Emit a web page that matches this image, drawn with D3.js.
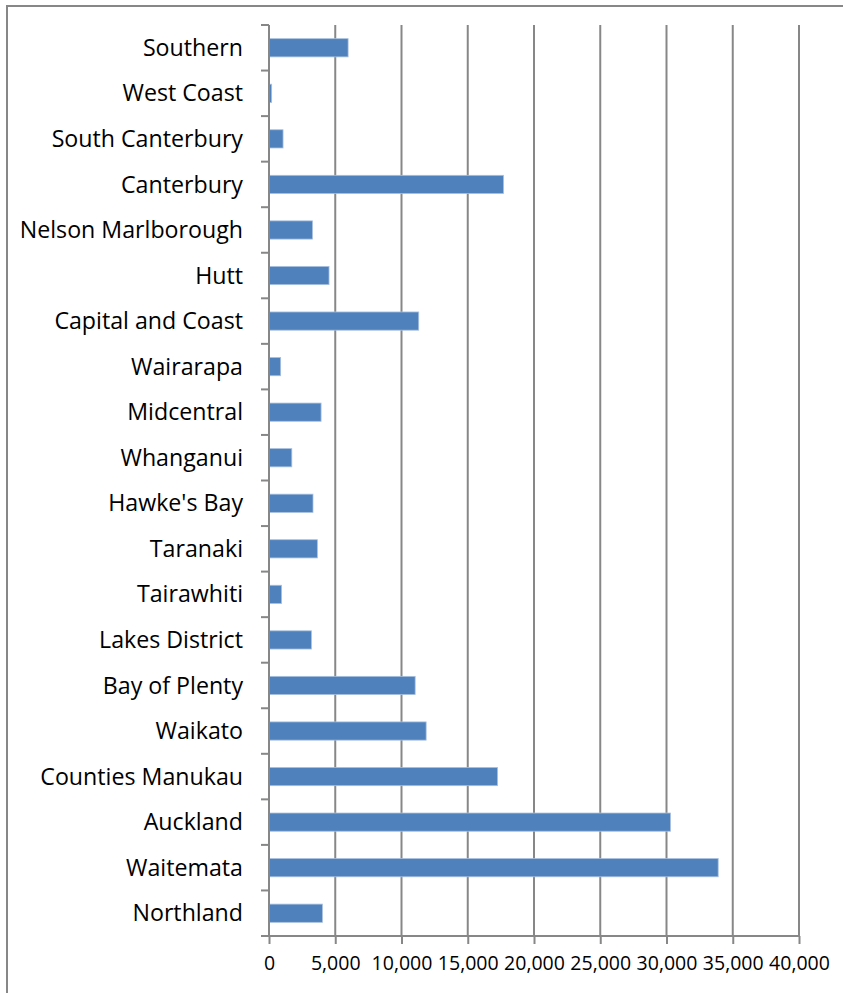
<!DOCTYPE html>
<html>
<head>
<meta charset="utf-8">
<script src="https://cdn.jsdelivr.net/npm/d3@7"></script>
<style>
  html, body { margin: 0; padding: 0; background: #fff; }
  svg { display: block; }
</style>
</head>
<body>
<svg id="chart" width="843" height="993"></svg>
<script>
// Categories listed bottom-to-top (as in the source chart)
const categories = [
  "Northland", "Waitemata", "Auckland", "Counties Manukau", "Waikato",
  "Bay of Plenty", "Lakes District", "Tairawhiti", "Taranaki", "Hawke's Bay",
  "Whanganui", "Midcentral", "Wairarapa", "Capital and Coast", "Hutt",
  "Nelson Marlborough", "Canterbury", "South Canterbury", "West Coast", "Southern"
];
const values = [
  4030, 33900, 30300, 17250, 11860,
  11030, 3200, 950, 3650, 3320,
  1720, 3930, 880, 11300, 4530,
  3280, 17700, 1060, 200, 5970
];
const xTicks = [0, 5000, 10000, 15000, 20000, 25000, 30000, 35000, 40000];

const svg = d3.select("#chart");
const gridColor = "#878787";
const font = "'Open Sans', 'Noto Sans', sans-serif";

// outer chart border (extends beyond right and bottom edges)
svg.append("rect")
  .attr("x", 7).attr("y", 6).attr("width", 1000).attr("height", 1100)
  .attr("fill", "none").attr("stroke", gridColor).attr("stroke-width", 2);

const plot = { left: 269, right: 799, top: 25, bottom: 936 };

const x = d3.scaleLinear().domain([0, 40000]).range([plot.left, plot.right]);
const y = d3.scaleBand().domain(categories.slice().reverse())
  .range([plot.top, plot.bottom]).padding(0);

// vertical gridlines
svg.append("g").selectAll("line")
  .data(xTicks.filter(d => d > 0))
  .join("line")
  .attr("x1", d => x(d)).attr("x2", d => x(d))
  .attr("y1", plot.top).attr("y2", plot.bottom)
  .attr("stroke", gridColor).attr("stroke-width", 2);

// bars
const bh = y.bandwidth() * 0.4;
svg.append("g").selectAll("rect")
  .data(categories.map((c, i) => ({ c, v: values[i] })))
  .join("rect")
  .attr("x", x(0))
  .attr("y", d => y(d.c) + (y.bandwidth() - bh) / 2)
  .attr("width", d => x(d.v) - x(0))
  .attr("height", bh)
  .attr("fill", "#4f81bd")
  .attr("stroke", "#a9c0de")
  .attr("stroke-width", 0.8);

// x axis
const xAxis = d3.axisBottom(x).tickValues(xTicks)
  .tickFormat(d3.format(",")).tickSize(8).tickPadding(12);
const gx = svg.append("g").attr("transform", `translate(0,${plot.bottom})`).call(xAxis);
gx.select(".domain").remove();
gx.selectAll(".tick line").attr("stroke", gridColor).attr("stroke-width", 2);
gx.selectAll(".tick text").attr("fill", "#000")
  .style("font-family", font).style("font-size", "19.5px");
gx.append("line")
  .attr("x1", plot.left - 8).attr("x2", plot.right)
  .attr("y1", 0).attr("y2", 0)
  .attr("stroke", gridColor).attr("stroke-width", 2);

// y axis line and boundary ticks
const boundaries = y.domain().map(c => y(c)).concat([plot.bottom]);
const gy = svg.append("g");
gy.append("line")
  .attr("x1", plot.left).attr("x2", plot.left)
  .attr("y1", plot.top).attr("y2", plot.bottom)
  .attr("stroke", gridColor).attr("stroke-width", 2);
gy.selectAll("line.tk").data(boundaries).join("line").attr("class", "tk")
  .attr("x1", plot.left - 8).attr("x2", plot.left)
  .attr("y1", d => d).attr("y2", d => d)
  .attr("stroke", gridColor).attr("stroke-width", 2);

// category labels
gy.selectAll("text").data(y.domain()).join("text")
  .attr("x", 243)
  .attr("y", d => y(d) + y.bandwidth() / 2)
  .attr("dy", "0.35em")
  .attr("text-anchor", "end")
  .attr("fill", "#000")
  .style("font-family", font).style("font-size", "23.2px")
  .text(d => d);
</script>
</body>
</html>
